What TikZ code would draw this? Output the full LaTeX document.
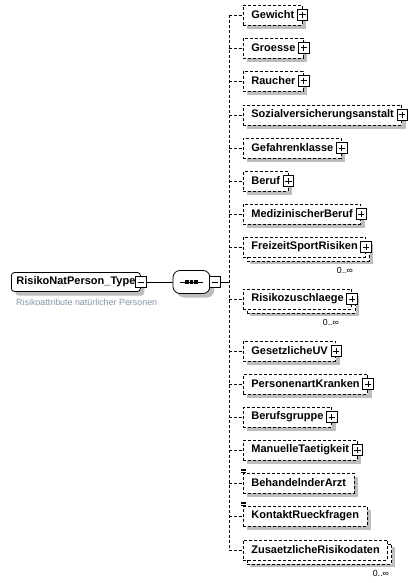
\documentclass[tikz,border=0pt]{standalone}
\usepackage{fontspec}
\setmainfont{Liberation Sans}
\usepackage{xcolor}
\usepackage{tikz}
\usetikzlibrary{positioning,shadows}
\definecolor{shadowgrey}{HTML}{BDBDBD}
\definecolor{descgrey}{HTML}{8393A8}

\tikzset{
  elembase/.style={draw, line width=0.8pt, dash pattern=on 3pt off 2pt, fill=white, anchor=west,
    font=\fontsize{11}{13}\selectfont\bfseries, minimum height=20pt, inner xsep=8pt, inner ysep=0pt},
  elem/.style={elembase, drop shadow={opacity=1, fill=shadowgrey, shadow xshift=4pt, shadow yshift=-4pt}},
  multielem/.style={elembase,
    drop shadow={opacity=1, fill=shadowgrey, shadow xshift=7pt, shadow yshift=-7pt},
    copy shadow={draw, fill=white, line width=0.8pt, dash pattern=on 3pt off 2pt, shadow xshift=4pt, shadow yshift=-4pt}},
  rootbox/.style={draw, line width=0.8pt, fill=white, rounded corners=3pt, anchor=west,
    font=\fontsize{11}{13}\selectfont\bfseries, minimum height=19pt, inner xsep=5pt, inner ysep=0pt,
    drop shadow={opacity=1, fill=shadowgrey, shadow xshift=4pt, shadow yshift=-4pt}},
  seqbox/.style={draw, line width=0.8pt, fill=white, rounded corners=7pt,
    minimum width=37pt, minimum height=23pt, inner sep=0pt,
    drop shadow={opacity=1, fill=shadowgrey, shadow xshift=4pt, shadow yshift=-4pt}},
  iconbox/.style={draw, line width=0.9pt, fill=white, solid, minimum size=10.5pt, inner sep=0pt},
  plusicon/.style={iconbox, path picture={
    \draw[line width=1pt] ([xshift=-3.2pt]path picture bounding box.center) -- ([xshift=3.2pt]path picture bounding box.center)
      ([yshift=-3.2pt]path picture bounding box.center) -- ([yshift=3.2pt]path picture bounding box.center);}},
  minusicon/.style={iconbox, path picture={
    \draw[line width=1pt] ([xshift=-3.2pt]path picture bounding box.center) -- ([xshift=3.2pt]path picture bounding box.center);}},
  conn/.style={line width=0.8pt, dash pattern=on 3pt off 2pt},
  occ/.style={font=\fontsize{8.8}{10}\selectfont, inner sep=0pt},
  descr/.style={font=\fontsize{8.9}{10}\selectfont, text=descgrey, inner sep=0pt}
}

\begin{document}
\begin{tikzpicture}[x=1pt, y=-1pt]
  \useasboundingbox (0,0) rectangle (415,583);
  % complex type and its sequence
  \node[rootbox] (root) at (11,282) {RisikoNatPerson\_Type\hspace{8pt}};
  \node[minusicon] (root-minus) at (root.east) {};
  \node[descr, anchor=west] (root-desc) at ([xshift=5pt,yshift=-10.5pt]root.south west) {Risikoattribute natürlicher Personen};
  \node[seqbox] (seq) at (191.5,282) {};
  \draw[line width=0.9pt] ([xshift=-11.5pt]seq.center) -- ([xshift=11.5pt]seq.center);
  \foreach \d in {-4.5,0,4.5}
    \fill ([xshift=\d pt]seq.center) +(-1.6,-1.6) rectangle +(1.6,1.6);
  \node[minusicon, anchor=west] (seq-minus) at ([xshift=-1pt]seq.east) {};
  \coordinate (spine) at (229,15);
  \draw[line width=0.8pt] (root-minus) -- (seq);
  \draw[line width=0.8pt] (seq-minus) -- (spine |- seq-minus);
  % elements with content
  \foreach \nm/\yy/\txt in {gewicht/15/Gewicht, groesse/48/Groesse, raucher/81/Raucher,
      sozial/115/Sozialversicherungsanstalt, gefahren/148/Gefahrenklasse, beruf/181/Beruf,
      medizin/214/MedizinischerBeruf, gesetzuv/351/GesetzlicheUV, persart/384/PersonenartKranken,
      berufsgr/417/Berufsgruppe, manuell/450/ManuelleTaetigkeit} {
    \node[elem] (\nm) at (243,\yy) {\txt\hspace{6pt}};
    \node[plusicon] (\nm-plus) at (\nm.east) {};
    \draw[conn] (spine |- \nm.west) -- (\nm.west);
  }
  % repeated elements
  \node[multielem] (freizeit) at (243,247) {FreizeitSportRisiken\hspace{5pt}};
  \node[plusicon] (freizeit-plus) at (freizeit.east) {};
  \node[occ, anchor=north east] (freizeit-occ) at ([xshift=-13pt,yshift=-10pt]freizeit.south east) {0..∞};
  \draw[conn] (spine |- freizeit.west) -- (freizeit.west);
  \node[multielem] (zuschlag) at (243,299) {Risikozuschlaege\hspace{5pt}};
  \node[plusicon] (zuschlag-plus) at (zuschlag.east) {};
  \node[occ, anchor=north east] (zuschlag-occ) at ([xshift=-13pt,yshift=-10pt]zuschlag.south east) {0..∞};
  \draw[conn] (spine |- zuschlag.west) -- (zuschlag.west);
  \node[multielem] (zusatz) at (243,550) {ZusaetzlicheRisikodaten};
  \node[occ, anchor=north east] (zusatz-occ) at ([xshift=1pt,yshift=-10pt]zusatz.south east) {0..∞};
  \draw[conn] (spine |- zusatz.west) -- (zusatz.west);
  % simple elements
  \foreach \nm/\yy/\txt in {behandelnd/483/BehandelnderArzt, kontakt/516/KontaktRueckfragen} {
    \node[elem] (\nm) at (243,\yy) {\txt};
    \foreach \k in {0.5,2,3.5}
      \draw[line width=0.6pt] ([shift={(-2,-\k)}]\nm.north west) -- ++(4.5,0);
    \draw[conn] (spine |- \nm.west) -- (\nm.west);
  }
  \draw[conn] (spine) -- (spine |- zusatz.west);
\end{tikzpicture}
\end{document}
